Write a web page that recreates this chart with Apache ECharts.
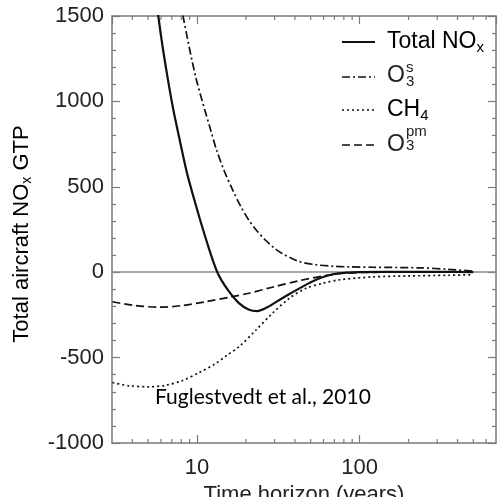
<!DOCTYPE html>
<html>
<head>
<meta charset="utf-8">
<script src="https://cdn.jsdelivr.net/npm/echarts@6/dist/echarts.min.js"></script>
<style>
html, body { margin: 0; padding: 0; background: #fff; }
#container { width: 500px; height: 497px; }
</style>
</head>
<body>
<div id="container"></div>
<script>
// time horizon (years) and GTP values
var totalYears = [5.23, 5.49, 5.78, 6.15, 6.6, 7.14, 7.83, 8.68, 9.9, 11.41, 13.33, 15.5, 18.1, 20.9, 23.4, 27.7, 31.9, 36.8, 42.4, 48.9, 56.3, 68.5, 86, 100, 200, 300, 500];
var totalGtp   = [1862, 1681, 1500, 1317, 1136, 954, 773, 580, 383, 187, 0, -105, -181, -220, -228, -200, -164, -129, -96, -64, -37, -12, -2, 0, 2, 2, 0];

var o3sYears = [6.92, 8.2, 9.82, 12.14, 13.14, 14.65, 16.48, 18.56, 20.87, 23.48, 26.44, 29.74, 33.44, 42.37, 53.66, 67.86, 85.96, 120, 240, 350, 500];
var o3sGtp   = [1872, 1500, 1143, 831, 720, 597, 486, 386, 304, 240, 187, 143, 109, 63, 44, 35, 31, 29, 25, 17, 6];

var ch4Years = [3.02, 3.82, 5.07, 6.42, 8.12, 10.29, 13.02, 15.29, 18.1, 22.96, 29.0, 36.8, 46.5, 58.9, 74.7, 119, 200, 350, 500];
var ch4Gtp   = [-646, -665, -671, -662, -635, -588, -535, -486, -437, -340, -242, -154, -95, -66, -45, -28, -22, -18, -15];

var o3pmYears = [3.02, 4.0, 5.84, 8.12, 11.3, 16.48, 20.87, 29.0, 42.37, 61.8, 82.0, 114, 200, 500];
var o3pmGtp   = [-173, -193, -205, -195, -173, -143, -123, -88, -50, -20, -5, -1, 0, 0];

var xMajorLabels = [10, 100];
var xMinorTicks = [4, 5, 6, 7, 8, 9, 20, 30, 40, 50, 60, 70, 80, 90, 200, 300, 400, 500, 600];

var yMin = -1000, yMax = 1500;
var axisColor = '#7a7a7a';
var textColor = '#222';
var lineColor = '#111';
var fontName = 'Liberation Sans';
var dashDot = [8, 3, 2, 3];
var dotted = [2, 3];
var dashed = [8, 4];

function zip(xs, ys) {
	return xs.map(function (x, i) { return [x, ys[i]]; });
}

var dom = document.getElementById('container');
var myChart = echarts.init(dom);

// legend drawn by hand because of the stacked sub/superscripts
var legX = 342, legLen = 33, txtX = 387;
var subRich = {
	m: { fontSize: 23, fontFamily: fontName, color: textColor, lineHeight: 26 },
	s: { fontSize: 15, fontFamily: fontName, color: textColor, lineHeight: 15, verticalAlign: 'bottom' }
};
var stackStyle = { fontSize: 15, fontFamily: fontName, fill: textColor, lineHeight: 14 };

function legendLine(y, dash, width) {
	return {
		type: 'line', silent: true,
		shape: { x1: legX, y1: y, x2: legX + legLen, y2: y },
		style: { stroke: lineColor, lineWidth: width, lineDash: dash }
	};
}

var graphics = [
	legendLine(42, null, 2),
	{ type: 'text', x: txtX, y: 42, style: { text: '{m|Total NO}{s|x}', rich: subRich, verticalAlign: 'middle' } },
	legendLine(77, dashDot, 1.7),
	{ type: 'text', x: txtX, y: 76, style: { text: 'O', fontSize: 23, fontFamily: fontName, fill: textColor, verticalAlign: 'middle' } },
	{ type: 'text', x: txtX + 19, y: 75, style: Object.assign({ text: 's\n3', verticalAlign: 'middle' }, stackStyle) },
	legendLine(110, dotted, 1.7),
	{ type: 'text', x: txtX, y: 110, style: { text: '{m|CH}{s|4}', rich: subRich, verticalAlign: 'middle' } },
	legendLine(145, dashed, 1.7),
	{ type: 'text', x: txtX, y: 145, style: { text: 'O', fontSize: 23, fontFamily: fontName, fill: textColor, verticalAlign: 'middle' } },
	{ type: 'text', x: txtX + 19, y: 139, style: Object.assign({ text: 'pm\n3', verticalAlign: 'middle' }, stackStyle) },
	// y axis title
	{
		type: 'text', x: 22, y: 234, rotation: Math.PI / 2,
		style: {
			text: '{m|Total aircraft NO}{s|x}{m| GTP}',
			rich: {
				m: { fontSize: 22, fontFamily: fontName, color: textColor, lineHeight: 24 },
				s: { fontSize: 14, fontFamily: fontName, color: textColor, lineHeight: 14, verticalAlign: 'bottom' }
			},
			align: 'center', verticalAlign: 'middle'
		}
	},
	// citation
	{ type: 'text', x: 155, y: 397, style: { text: 'Fuglestvedt et al., 2010', fontSize: 21, fontFamily: 'Lato', fill: '#000', verticalAlign: 'middle' } }
];

var axisCommon = {
	type: 'log', logBase: 10, min: 3, max: 690,
	axisLine: { show: true, onZero: false, lineStyle: { color: axisColor, width: 1.5 } },
	axisTick: { show: true, inside: true, length: 8, lineStyle: { color: axisColor, width: 1.2 } },
	splitLine: { show: false }
};
var yCommon = {
	type: 'value', min: yMin, max: yMax, interval: 500,
	axisLine: { show: true, onZero: false, lineStyle: { color: axisColor, width: 1.5 } },
	axisTick: { show: true, inside: true, length: 8, lineStyle: { color: axisColor, width: 1.2 } },
	minorTick: { show: true, splitNumber: 5, length: 4, lineStyle: { color: axisColor, width: 1.2 } },
	splitLine: { show: false }
};

var option = {
	animation: false,
	grid: { left: 112, right: 4, top: 16, bottom: 54, containLabel: false, outerBoundsMode: 'none' },
	xAxis: [
		Object.assign({}, axisCommon, {
			position: 'bottom',
			name: 'Time horizon (years)', nameLocation: 'middle', nameGap: 35,
			nameTextStyle: { fontSize: 22, fontFamily: fontName, color: textColor },
			axisLabel: {
				fontSize: 22, fontFamily: fontName, color: textColor, margin: 14,
				showMinLabel: false, showMaxLabel: false,
				formatter: function (v) { return xMajorLabels.indexOf(Math.round(v)) >= 0 ? String(Math.round(v)) : ''; }
			}
		}),
		Object.assign({}, axisCommon, { position: 'top', axisLabel: { show: false } })
	],
	yAxis: [
		Object.assign({}, yCommon, {
			position: 'left',
			axisLabel: {
				fontSize: 22, fontFamily: fontName, color: textColor, margin: 8,
				formatter: function (v) { return String(v); }
			}
		}),
		Object.assign({}, yCommon, { position: 'right', axisLabel: { show: false } })
	],
	graphic: graphics,
	series: [
		{
			name: 'Total NOx', type: 'line', data: zip(totalYears, totalGtp),
			smooth: 0.3, symbol: 'none', clip: true,
			lineStyle: { color: lineColor, width: 2.2 },
			markLine: {
				silent: true, symbol: 'none', label: { show: false },
				lineStyle: { color: '#8a8a8a', width: 1.5, type: 'solid' },
				data: [{ yAxis: 0 }]
			},
			z: 5
		},
		{
			name: 'O3s', type: 'line', data: zip(o3sYears, o3sGtp),
			smooth: 0.3, symbol: 'none', clip: true,
			lineStyle: { color: lineColor, width: 1.7, type: dashDot }
		},
		{
			name: 'CH4', type: 'line', data: zip(ch4Years, ch4Gtp),
			smooth: 0.3, symbol: 'none', clip: true,
			lineStyle: { color: lineColor, width: 1.7, type: dotted }
		},
		{
			name: 'O3pm', type: 'line', data: zip(o3pmYears, o3pmGtp),
			smooth: 0.3, symbol: 'none', clip: true,
			lineStyle: { color: lineColor, width: 1.7, type: dashed }
		},
		{
			// minor ticks of the log axes, top and bottom
			name: 'minor', type: 'custom', silent: true,
			data: xMinorTicks.map(function (v) { return [v, 0]; }),
			encode: { x: 0, y: 1 },
			renderItem: function (params, api) {
				var b = api.coord([api.value(0), yMin]);
				var t = api.coord([api.value(0), yMax]);
				var st = { stroke: axisColor, lineWidth: 1.2 };
				return {
					type: 'group', children: [
						{ type: 'line', shape: { x1: b[0], y1: b[1], x2: b[0], y2: b[1] - 4 }, style: st },
						{ type: 'line', shape: { x1: t[0], y1: t[1], x2: t[0], y2: t[1] + 4 }, style: st }
					]
				};
			}
		}
	]
};

myChart.setOption(option);
</script>
</body>
</html>
